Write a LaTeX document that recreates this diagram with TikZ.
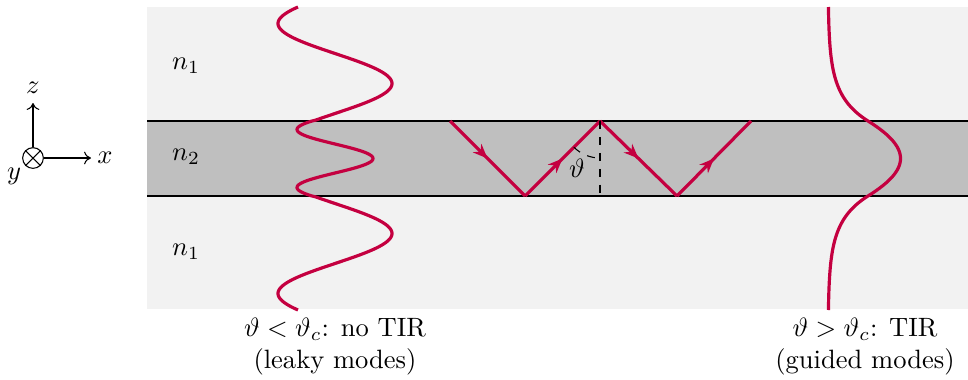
\documentclass[tikz,border=0pt]{standalone}
\usetikzlibrary{arrows.meta,decorations.markings,calc}
\definecolor{wavecol}{RGB}{196,0,64}
\definecolor{cladcol}{RGB}{242,242,242}
\definecolor{corecol}{RGB}{191,191,191}
\begin{document}
\begin{tikzpicture}[x=0.377pt,y=-0.377pt,
  ray/.style={wavecol,line width=1.2pt,line join=round,postaction={decorate},
    decoration={markings,mark=at position 0.5 with {\arrow{Stealth[length=5.5pt,width=4.5pt]}}}},
  wavepath/.style={wavecol,line width=1.2pt},
  interface/.style={line width=0.4pt},
  axis/.style={line width=0.4pt,-{To[length=2.6pt,width=4.8pt]}},
]
\useasboundingbox (0,0) rectangle (968,379);
% media
\fill[cladcol] (147,7) rectangle (968,309);
\fill[corecol] (147,121) rectangle (968,196);
\coordinate (tl) at (147,121);
\coordinate (tr) at (968,121);
\coordinate (bl) at (147,196);
\coordinate (br) at (968,196);
\draw[interface] (tl) -- (tr);
\draw[interface] (bl) -- (br);
\node (n1a) at (186,66) {$n_1$};
\node (n2) at (186,157) {$n_2$};
\node (n1b) at (186,252) {$n_1$};
% axes
\node[circle,draw,line width=0.4pt,minimum size=7.8pt,inner sep=0pt] (o) at (33,158) {};
\draw[line width=0.4pt] (o.north east) -- (o.south west);
\draw[line width=0.4pt] (o.north west) -- (o.south east);
\coordinate (zt) at (33,103);
\coordinate (xt) at (91,158);
\draw[axis] (o.north) -- (zt);
\draw[axis] (o.east) -- (xt);
\node (zl) at (33,88) {$z$};
\node (xl) at (105,158) {$x$};
\node (yl) at (14,176) {$y$};
% zigzag ray
\coordinate (r0) at (450,121);
\coordinate (r1) at (525,196);
\coordinate (r2) at (600,121);
\coordinate (r3) at (677,196);
\coordinate (r4) at (751,121);
\coordinate (r2b) at (600,196);
\draw[ray] (r0) -- (r1);
\draw[ray] (r1) -- (r2);
\draw[ray] (r2) -- (r3);
\draw[ray] (r3) -- (r4);
\draw[dashed,line width=0.4pt] (r2) -- (r2b);
\draw[dashed,line width=0.4pt] ($(r2)+(135:37)$) arc[start angle=135,end angle=90,radius=37];
\node (th) at (577,168) {$\vartheta$};
% leaky mode
\draw[wavepath] plot[domain=-151.5:151.5,samples=301,smooth]
  ({335+(abs(\x)<37.5 ? 38*cos(6.207*\x) : 57*cos(3*abs(\x)+135))},{158.5+\x});
% guided mode
\draw[wavepath] plot[domain=-151.5:151.5,samples=301,smooth]
  ({828+(abs(\x)<37.5 ? 72.5*cos(1.507*\x) : 40*exp(-0.04*(abs(\x)-37.5)))},{158.5+\x});
% captions
\node[align=center] (capl) at (335,347) {$\vartheta<\vartheta_c$: no TIR\\(leaky modes)};
\node[align=center] (capr) at (865,347) {$\vartheta>\vartheta_c$: TIR\\(guided modes)};
\end{tikzpicture}
\end{document}
